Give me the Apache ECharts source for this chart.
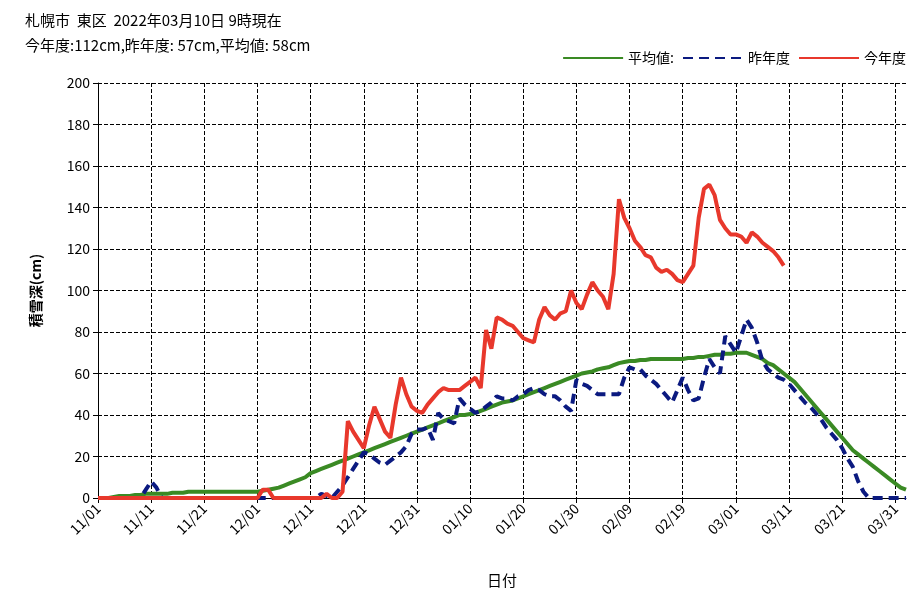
<!DOCTYPE html>
<html>
<head>
<meta charset="utf-8">
<script src="https://cdn.jsdelivr.net/npm/echarts@6/dist/echarts.min.js"></script>
<style>html,body{margin:0;padding:0;background:#fff}#chart{width:923px;height:606px}</style>
</head>
<body>
<div id="chart"></div>
<script>
// 日付 11/01 〜 04/02
var days = [];
var d = new Date(2021, 10, 1);
for (var i = 0; i < 153; i++) {
  days.push(String(d.getMonth() + 1).padStart(2, '0') + '/' + String(d.getDate()).padStart(2, '0'));
  d.setDate(d.getDate() + 1);
}

var avgData = [
  0,0,0,0.5,1,1,1,1.5,1.5,2,
  2,2,2,2,2.5,2.5,2.5,3,3,3,
  3,3,3,3,3,3,3,3,3,3,
  3,3.5,4,4.5,5,6,7,8,9,10,
  12,13,14,15,16,17,18,19,20,21,
  22,23,24,25,26,27,28,29,30,31,
  32,33,34,35,36,37,38,39,40,40,
  40.5,41,42,43,44,45,46,46.5,47,48,
  49,50,51,52,53,54,55,56,57,58,
  59,60,60.5,61,62,62.5,63,64,65,65.5,
  66,66,66.5,66.5,67,67,67,67,67,67,
  67,67.5,67.5,68,68,68.5,69,69,69.5,69.5,
  70,70,70,69,68,67,65,64,62,60,
  58,56,53,50,47,44,41,38,35,32,
  29,26,23,21,19,17,15,13,11,9,
  7,5,4
];

var lastYear = [
  0,0,0,0,0,0,0,0,0,4,
  8,5,0,0,0,0,0,0,0,0,
  0,0,0,0,0,0,0,0,0,0,
  0,0,0,0,0,0,0,0,0,0,
  0,0,2,1,0,3,6,10,14,18,
  22,21,19,17,16,18,20,22,25,31,
  33,33,34,28,41,38,37,36,48,45,
  43,41,42,44,46,49,48,48,47,49,
  50,52,53,52,50,49,49,47,44,42,
  57,55,54,52,50,50,50,50,50,58,
  63,62,62,59,57,55,52,49,46,52,
  58,52,47,48,58,67,63,60,78,74,
  70,78,86,82,75,66,62,60,58,57,
  55,52,49,46,44,41,38,34,31,28,
  24,19,15,8,3,0,0,0,0,0,
  0,0,0
];

var thisYear = [
  0,0,0,0,0,0,0,0,0,0,
  0,0,0,0,0,0,0,0,0,0,
  0,0,0,0,0,0,0,0,0,0,
  0,4,4,0,0,0,0,0,0,0,
  0,0,0,2,0,0,3,37,32,28,
  24,35,44,38,32,29,45,58,50,44,
  42,41,45,48,51,53,52,52,52,54,
  56,58,53,81,72,87,86,84,83,80,
  77,76,75,86,92,88,86,89,90,100,
  94,91,98,104,100,97,91,108,144,135,
  130,124,121,117,116,111,109,110,108,105,
  104,108,112,135,149,151,146,134,130,127,
  127,126,123,128,126,123,121,119,116,112
];

var chart = echarts.init(document.getElementById('chart'));
var font = '"Noto Sans CJK JP", sans-serif';
chart.setOption({
  animation: false,
  title: {
    text: '札幌市  東区  2022年03月10日 9時現在',
    subtext: '今年度:112cm,昨年度: 57cm,平均値: 58cm',
    left: 20, top: 8, itemGap: 10,
    textStyle: {fontFamily: font, fontSize: 15, fontWeight: 'normal', color: '#000'},
    subtextStyle: {fontFamily: font, fontSize: 15, color: '#000'}
  },
  legend: {
    right: 12, top: 46, itemWidth: 60, itemHeight: 10, itemGap: 8,
    itemStyle: {opacity: 0},
    textStyle: {fontFamily: font, fontSize: 14, color: '#000'},
    data: ['平均値:', '昨年度', '今年度']
  },
  grid: {left: 98, right: 17, top: 83, bottom: 108},
  xAxis: {
    type: 'category', data: days, boundaryGap: false,
    name: '日付', nameLocation: 'middle', nameGap: 75,
    nameTextStyle: {fontFamily: font, fontSize: 15, color: '#000'},
    axisLine: {lineStyle: {color: '#000'}},
    axisTick: {interval: 9, lineStyle: {color: '#000'}},
    axisLabel: {interval: 9, rotate: 45, fontFamily: font, fontSize: 14, color: '#000', margin: 8},
    splitLine: {show: true, interval: 9, lineStyle: {color: '#000', type: 'dashed'}}
  },
  yAxis: {
    type: 'value', min: 0, max: 200, interval: 20,
    name: '積雪深(cm)', nameLocation: 'middle', nameGap: 55,
    nameTextStyle: {fontFamily: font, fontSize: 14, fontWeight: 'bold', color: '#000'},
    axisLine: {show: true, lineStyle: {color: '#000'}},
    axisTick: {show: true, lineStyle: {color: '#000'}},
    axisLabel: {fontFamily: font, fontSize: 14, color: '#000'},
    splitLine: {lineStyle: {color: '#000', type: 'dashed'}}
  },
  series: [
    {name: '平均値:', type: 'line', data: avgData, symbol: 'none',
     lineStyle: {color: '#3a8a24', width: 4}, itemStyle: {color: '#3a8a24'}},
    {name: '昨年度', type: 'line', data: lastYear, symbol: 'none',
     lineStyle: {color: '#0b1a80', width: 4, type: [10, 6]}, itemStyle: {color: '#0b1a80'}},
    {name: '今年度', type: 'line', data: thisYear, symbol: 'none',
     lineStyle: {color: '#e8382c', width: 4}, itemStyle: {color: '#e8382c'}}
  ]
});
</script>
</body>
</html>
